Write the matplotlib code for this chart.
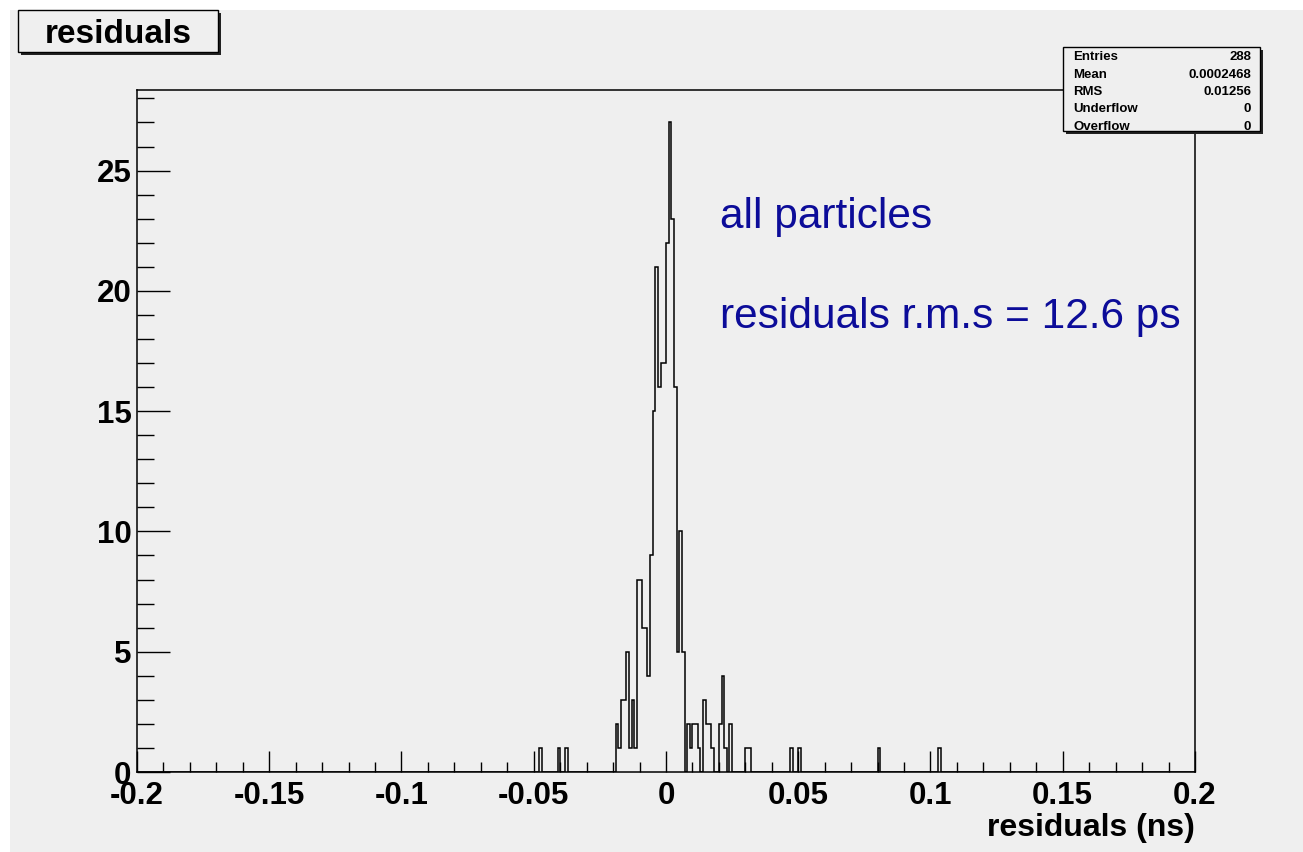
import numpy as np
import matplotlib.pyplot as plt
from matplotlib.patches import Rectangle

W, H = 1303, 852

# lower edges (ns) of the non-empty 0.001 ns bins and their counts
bin_low = [-0.048, -0.041, -0.038,
           -0.019, -0.018, -0.017, -0.016, -0.015, -0.014, -0.013, -0.012,
           -0.011, -0.010, -0.009, -0.008, -0.007, -0.006, -0.005, -0.004,
           -0.003, -0.002, -0.001, 0.000, 0.001, 0.002, 0.003, 0.004,
           0.005, 0.006,
           0.008, 0.009, 0.010, 0.011, 0.012, 0.014, 0.015, 0.016, 0.017,
           0.020, 0.021, 0.022, 0.024,
           0.030, 0.031, 0.047, 0.050, 0.080, 0.103]
counts = [1, 1, 1,
          2, 1, 3, 3, 5, 1, 3, 1,
          8, 8, 6, 6, 4, 9, 15, 21,
          16, 17, 17, 22, 27, 23, 16, 5,
          10, 5,
          2, 1, 2, 2, 1, 3, 2, 2, 1,
          2, 4, 1, 2,
          1, 1, 1, 1, 1, 1]

xticks = [-0.2, -0.15, -0.1, -0.05, 0, 0.05, 0.1, 0.15, 0.2]
xtick_labels = ['-0.2', '-0.15', '-0.1', '-0.05', '0', '0.05', '0.1', '0.15', '0.2']
yticks = [0, 5, 10, 15, 20, 25]

stats_names = ['Entries', 'Mean', 'RMS', 'Underflow', 'Overflow']
stats_values = ['288', '0.0002468', '0.01256', '0', '0']

plt.rcParams['font.family'] = ['Liberation Sans', 'DejaVu Sans']

bg = '#efefef'
edges = np.linspace(-0.2, 0.2, 401)
h, _ = np.histogram(np.array(bin_low) + 0.0005, bins=edges, weights=counts)

fig = plt.figure(figsize=(W / 100, H / 100), dpi=100, facecolor='white')
fig.add_artist(Rectangle((10 / W, 0), 1, 1 - 10 / H, transform=fig.transFigure,
                         facecolor=bg, edgecolor='none', zorder=0))


def fx(px):
    return px / W


def fy(py):
    return 1 - py / H


ax = fig.add_axes([fx(137), fy(772), (1195 - 137) / W, (772 - 90) / H])
ax.set_facecolor(bg)
ax.stairs(h, edges, color='black', lw=1.1)
ax.set_xlim(-0.2, 0.2)
ax.set_ylim(0, 28.35)

ax.set_xticks(xticks)
ax.set_xticklabels(xtick_labels)
ax.set_xticks(np.arange(-0.2, 0.2001, 0.01), minor=True)
ax.set_yticks(yticks)
ax.set_yticks(np.arange(0, 29, 1), minor=True)
for lab in ax.get_xticklabels() + ax.get_yticklabels():
    lab.set_fontweight('bold')
    lab.set_fontsize(22.5)
ax.tick_params(axis='x', which='major', direction='in', length=15, width=1, pad=6.5)
ax.tick_params(axis='x', which='minor', direction='in', length=7, width=1)
ax.tick_params(axis='y', which='major', direction='in', length=24, width=1, pad=4)
ax.tick_params(axis='y', which='minor', direction='in', length=12, width=1)
for s in ax.spines.values():
    s.set_linewidth(1.1)

fig.text(fx(1195), fy(836), 'residuals (ns)', ha='right', va='baseline',
         fontsize=23, fontweight='bold')

# annotations
blue = '#0c0c99'
fig.text(fx(720), fy(228), 'all particles', color=blue, fontsize=30.5, va='baseline')
fig.text(fx(720), fy(328), 'residuals r.m.s = 12.6 ps', color=blue, fontsize=30.5,
         va='baseline')

# title box
fig.add_artist(Rectangle((fx(21), fy(55)), (218 - 18) / W, (52 - 10) / H,
                         transform=fig.transFigure, facecolor='#222222',
                         edgecolor='none', zorder=5))
fig.add_artist(Rectangle((fx(18), fy(52)), (218 - 18) / W, (52 - 10) / H,
                         transform=fig.transFigure, facecolor=bg,
                         edgecolor='black', lw=1.0, zorder=6))
fig.text(fx(118), fy(43), 'residuals', ha='center', va='baseline', fontsize=24,
         fontweight='bold', zorder=7)

# stats box
fig.add_artist(Rectangle((fx(1066), fy(134)), (1260 - 1063) / W, (131 - 47) / H,
                         transform=fig.transFigure, facecolor='#222222',
                         edgecolor='none', zorder=5))
fig.add_artist(Rectangle((fx(1063), fy(131)), (1260 - 1063) / W, (131 - 47) / H,
                         transform=fig.transFigure, facecolor=bg,
                         edgecolor='black', lw=1.0, zorder=6))
for i, (n, v) in enumerate(zip(stats_names, stats_values)):
    yy = fy(60 + i * 17.5)
    fig.text(fx(1073), yy, n, fontsize=9.5, fontweight='bold', va='baseline', zorder=7)
    fig.text(fx(1251), yy, v, fontsize=9.5, fontweight='bold', va='baseline',
             ha='right', zorder=7)

fig.savefig('out.png', dpi=100, facecolor=fig.get_facecolor())
